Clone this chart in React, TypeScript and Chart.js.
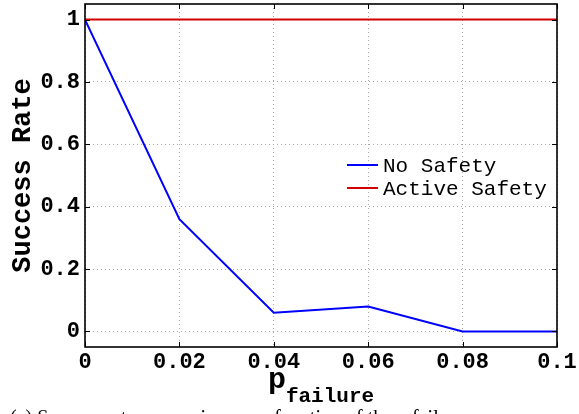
import React, { useEffect, useRef } from "react";
import { Chart, registerables } from "chart.js";

Chart.register(...registerables);

const pFailure = [0, 0.02, 0.04, 0.06, 0.08, 0.1];
const noSafety = [1, 0.36, 0.06, 0.08, 0, 0];
const activeSafety = [1, 1, 1, 1, 1, 1];
const seriesLabels = ["No Safety", "Active Safety"];
const seriesColors = ["#0000ff", "#d40000"];
const xTicks = [0, 0.02, 0.04, 0.06, 0.08, 0.1];
const xTickLabels = ["0", "0.02", "0.04", "0.06", "0.08", "0.1"];
const yTicks = [0, 0.2, 0.4, 0.6, 0.8, 1];
const yTickLabels = ["0", "0.2", "0.4", "0.6", "0.8", "1"];
const yTitle = "Success Rate";
const xTitleMain = "p";
const xTitleSub = "failure";
const caption = "(a) Success rate comparison as a function of the p failure";

const MONO = "'Liberation Mono', 'DejaVu Sans Mono', monospace";

const decoPlugin = {
  id: "matlabDeco",
  afterDatasetsDraw(chart: any) {
    const { ctx, chartArea } = chart;
    const { left, right, top, bottom } = chartArea;
    const xs = chart.scales.x;
    const ys = chart.scales.y;
    ctx.save();
    ctx.strokeStyle = "#000";
    ctx.lineWidth = 1;
    const tl = 5;
    xTicks.forEach((v) => {
      const px = Math.round(xs.getPixelForValue(v)) + 0.5;
      ctx.beginPath();
      ctx.moveTo(px, bottom);
      ctx.lineTo(px, bottom - tl);
      ctx.moveTo(px, top);
      ctx.lineTo(px, top + tl);
      ctx.stroke();
    });
    yTicks.forEach((v) => {
      const py = Math.round(ys.getPixelForValue(v)) + 0.5;
      ctx.beginPath();
      ctx.moveTo(left, py);
      ctx.lineTo(left + tl, py);
      ctx.moveTo(right, py);
      ctx.lineTo(right - tl, py);
      ctx.stroke();
    });
    ctx.lineWidth = 1.6;
    ctx.strokeRect(left, top, right - left, bottom - top);
    ctx.restore();
  },
  afterDraw(chart: any) {
    const { ctx, chartArea } = chart;
    const { left, right, top, bottom } = chartArea;
    ctx.save();
    // y title
    ctx.fillStyle = "#000";
    ctx.font = `bold 27px ${MONO}`;
    ctx.textAlign = "center";
    ctx.textBaseline = "middle";
    ctx.translate(23, (top + bottom) / 2);
    ctx.rotate(-Math.PI / 2);
    ctx.fillText(yTitle, 0, 0);
    ctx.setTransform(1, 0, 0, 1, 0, 0);
    // x title
    ctx.textAlign = "left";
    ctx.textBaseline = "alphabetic";
    ctx.font = `bold 30px ${MONO}`;
    const wMain = ctx.measureText(xTitleMain).width;
    ctx.font = `bold 21px ${MONO}`;
    const wSub = ctx.measureText(xTitleSub).width;
    const startX = (left + right) / 2 - (wMain + wSub) / 2;
    ctx.font = `bold 30px ${MONO}`;
    ctx.fillText(xTitleMain, startX, bottom + 41);
    ctx.font = `bold 21px ${MONO}`;
    ctx.fillText(xTitleSub, startX + wMain, bottom + 55);
    // legend
    ctx.font = `21px ${MONO}`;
    ctx.textBaseline = "middle";
    const lx = left + 262;
    const ly = top + 161;
    seriesLabels.forEach((lab, i) => {
      const y = ly + i * 23;
      ctx.strokeStyle = seriesColors[i];
      ctx.lineWidth = 2;
      ctx.beginPath();
      ctx.moveTo(lx, y);
      ctx.lineTo(lx + 31, y);
      ctx.stroke();
      ctx.fillStyle = "#000";
      ctx.fillText(lab, lx + 36, y + 1);
    });
    ctx.restore();
  },
};

export default function App() {
  const canvasRef = useRef<HTMLCanvasElement | null>(null);

  useEffect(() => {
    const canvas = canvasRef.current;
    if (!canvas) return;
    const chart = new Chart(canvas, {
      type: "line",
      data: {
        datasets: [
          {
            label: seriesLabels[0],
            data: pFailure.map((x, i) => ({ x, y: noSafety[i] })),
            borderColor: seriesColors[0],
            borderWidth: 2,
            pointRadius: 0,
            fill: false,
            tension: 0,
            order: 1,
          },
          {
            label: seriesLabels[1],
            data: pFailure.map((x, i) => ({ x, y: activeSafety[i] })),
            borderColor: seriesColors[1],
            borderWidth: 2,
            pointRadius: 0,
            fill: false,
            tension: 0,
            order: 0,
          },
        ],
      },
      options: {
        responsive: false,
        animation: false,
        devicePixelRatio: 1,
        layout: { padding: { left: 0, right: 22, top: 4, bottom: 0 } },
        plugins: {
          legend: { display: false },
          tooltip: { enabled: false },
        },
        scales: {
          x: {
            type: "linear",
            min: 0,
            max: 0.1,
            afterBuildTicks: (scale: any) => {
              scale.ticks = xTicks.map((v) => ({ value: v }));
            },
            afterFit: (scale: any) => {
              scale.height = 67;
              scale.paddingLeft = 0;
              scale.paddingRight = 0;
            },
            ticks: {
              callback: (_v: any, i: number) => xTickLabels[i],
              font: { family: MONO, size: 22, weight: "bold" },
              color: "#000",
              padding: 2,
              maxRotation: 0,
              autoSkip: false,
            },
            grid: {
              drawTicks: false,
              color: "#a8a8a8",
              lineWidth: 1,
            },
            border: { display: false, dash: [1, 3] },
          },
          y: {
            type: "linear",
            min: -0.05,
            max: 1.05,
            afterBuildTicks: (scale: any) => {
              scale.ticks = yTicks.map((v) => ({ value: v }));
            },
            afterFit: (scale: any) => {
              scale.width = 85;
              scale.paddingTop = 0;
              scale.paddingBottom = 0;
            },
            ticks: {
              callback: (_v: any, i: number) => yTickLabels[i],
              font: { family: MONO, size: 22, weight: "bold" },
              color: "#000",
              padding: 5,
              autoSkip: false,
            },
            grid: {
              drawTicks: false,
              color: "#a8a8a8",
              lineWidth: 1,
            },
            border: { display: false, dash: [1, 3] },
          },
        },
      },
      plugins: [decoPlugin],
    });
    return () => chart.destroy();
  }, []);

  return (
    <div
      style={{
        position: "fixed",
        left: 0,
        top: 0,
        width: 579,
        height: 414,
        overflow: "hidden",
        background: "#fff",
      }}
    >
      <canvas ref={canvasRef} width={579} height={414} style={{ display: "block" }} />
      <div
        style={{
          position: "absolute",
          left: 10,
          top: 407,
          whiteSpace: "nowrap",
          fontFamily: "'Liberation Serif', 'Times New Roman', serif",
          fontSize: 20,
          lineHeight: "20px",
          color: "#000",
        }}
      >
        {caption}
      </div>
    </div>
  );
}
